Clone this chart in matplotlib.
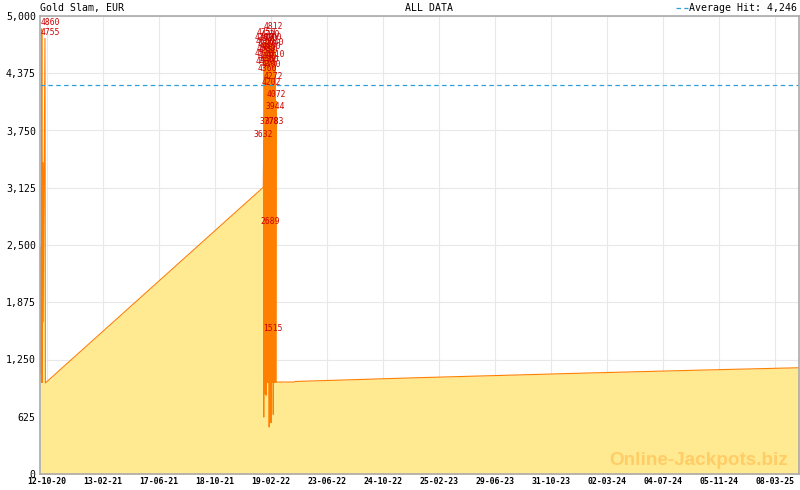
import numpy as np
import pandas as pd
import matplotlib
matplotlib.use('Agg')
import matplotlib.pyplot as plt
import matplotlib.dates as mdates
from matplotlib.ticker import FixedLocator

# jackpot level, early days (several quick hits)
early_dates = ['2020-09-27', '2020-09-28', '2020-09-29', '2020-09-30', '2020-10-01',
               '2020-10-02', '2020-10-03', '2020-10-04', '2020-10-08', '2020-10-09']
early_values = [1660, 1100, 2480, 1000, 4860, 1000, 3400, 1660, 4755, 994]

# slow growth up to the hit cluster
growth_dates = ['2022-02-02']
growth_values = [3130]

# cluster of hits in Feb 2022: hit value and the seed it dropped back to
hit_dates = ['2022-02-03', '2022-02-04', '2022-02-05', '2022-02-06', '2022-02-07',
             '2022-02-08', '2022-02-09', '2022-02-10', '2022-02-11', '2022-02-12',
             '2022-02-13', '2022-02-14', '2022-02-15', '2022-02-16', '2022-02-17',
             '2022-02-18', '2022-02-19', '2022-02-20', '2022-02-21', '2022-02-22',
             '2022-02-23', '2022-02-24', '2022-02-25', '2022-02-26', '2022-02-27',
             '2022-02-28', '2022-03-01', '2022-03-02']
hit_values = [3632, 4700, 4520, 4650, 4430, 4750, 4580, 4490, 4620, 4360,
              4680, 4550, 3778, 4460, 4730, 2689, 4202, 4600, 4400, 1515,
              4700, 4812, 4272, 3783, 4640, 4510, 3944, 4072]
reset_values = [622, 1000, 880, 1000, 1000, 860, 1000, 1000, 1000, 1000,
                1000, 1000, 513, 1000, 1000, 1000, 560, 1000, 1000, 1000,
                1000, 650, 1000, 1000, 1000, 1000, 1000, 1004]

# after the cluster
late_dates = ['2022-04-12', '2022-04-13', '2023-01-01', '2024-01-01', '2024-10-01', '2025-04-30']
late_values = [1004, 1010, 1050, 1100, 1135, 1160]

avg_hit = 4246

tick_dates = ['2020-10-12', '2021-02-13', '2021-06-17', '2021-10-18', '2022-02-19',
              '2022-06-23', '2022-10-24', '2023-02-25', '2023-06-29', '2023-10-31',
              '2024-03-02', '2024-07-04', '2024-11-05', '2025-03-08']

# build series
dates = list(pd.to_datetime(early_dates)) + list(pd.to_datetime(growth_dates))
values = early_values + growth_values
for d, v, r in zip(pd.to_datetime(hit_dates), hit_values, reset_values):
    dates += [d, d + pd.Timedelta(hours=2)]
    values += [v, r]
dates += list(pd.to_datetime(late_dates))
values += late_values
x = mdates.date2num(dates)
values = np.array(values)

fig = plt.figure(figsize=(8, 4.9), dpi=100)
ax = fig.add_axes([40 / 800, 16 / 490, 759 / 800, 458 / 490])

mono = 'DejaVu Sans Mono'
blue = '#2E9FD8'
ax.fill_between(x, values, 0, color='#FFE991', lw=0, zorder=2)
ax.plot(x, values, color='#FF8000', lw=0.8, zorder=3)
ax.axhline(avg_hit, color=blue, lw=0.9, dashes=(3.6, 2.7), zorder=4)

# hit labels
x_left = mdates.date2num(pd.Timestamp('2020-09-27'))
ax.text(x_left + 1, 4860 + 20, '4860', color='#CC0000', fontsize=5.8, family=mono,
        ha='left', va='bottom', zorder=5)
ax.text(x_left + 1, 4755 + 20, '4755', color='#CC0000', fontsize=5.8, family=mono,
        ha='left', va='bottom', zorder=5)
for d, v in zip(mdates.date2num(pd.to_datetime(hit_dates)), hit_values):
    ax.text(d, v + 20, str(v), color='#CC0000', fontsize=5.8, family=mono,
            ha='center', va='bottom', zorder=5)

ax.text(0.985, 0.03, 'Online-Jackpots.biz', transform=ax.transAxes, ha='right', va='center',
        fontsize=13.6, fontweight='bold', family='Liberation Sans', color='#FFCC66', zorder=3)

# axes
x0 = mdates.date2num(pd.Timestamp('2020-09-27'))
x1 = mdates.date2num(pd.Timestamp('2025-04-30'))
ax.set_xlim(x0, x1)
ax.set_ylim(0, 5000)

major = list(mdates.date2num(pd.to_datetime(tick_dates)))
minor = []
for a, b in zip(major[:-1], major[1:]):
    minor += [a + (b - a) * k / 7 for k in range(1, 7)]
step = (major[-1] - major[0]) / (len(major) - 1) / 7
minor += [major[0] - step, major[-1] + step, major[-1] + 2 * step]
minor = [m for m in minor if x0 <= m <= x1]
ax.xaxis.set_major_locator(FixedLocator(major))
ax.xaxis.set_minor_locator(FixedLocator(minor))
ax.set_xticklabels([pd.Timestamp(t).strftime('%d-%m-%y') for t in tick_dates],
                   family=mono, fontsize=5.9, fontweight='bold')
yt = [625 * i for i in range(9)]
ax.set_yticks(yt)
ax.set_yticklabels(['{:,}'.format(v) for v in yt], family=mono, fontsize=7.1)

ax.tick_params(axis='x', which='major', direction='in', length=5, color='#AAAAAA', pad=2)
ax.tick_params(axis='x', which='minor', direction='in', length=3, color='#AAAAAA')
ax.tick_params(axis='y', length=0, pad=3)
ax.grid(True, which='major', color='#E8E8E8', lw=0.8, zorder=0)
ax.set_axisbelow(True)
for s in ax.spines.values():
    s.set_color('#AAAAAA')
    s.set_linewidth(1.2)
    s.set_zorder(6)

fig.text(40 / 800, 1 - 8 / 490, 'Gold Slam, EUR', family=mono, fontsize=7.1, ha='left', va='center')
fig.text(429 / 800, 1 - 8 / 490, 'ALL DATA', family=mono, fontsize=7.1, ha='center', va='center')
fig.text(797 / 800, 1 - 8 / 490, 'Average Hit: 4,246', family=mono, fontsize=7.1, ha='right', va='center')
fig.lines.append(plt.Line2D([676 / 800, 688 / 800], [1 - 8 / 490, 1 - 8 / 490], transform=fig.transFigure,
                            color=blue, lw=0.9, dashes=(3.6, 2.7)))

fig.savefig('out.png', dpi=100)
